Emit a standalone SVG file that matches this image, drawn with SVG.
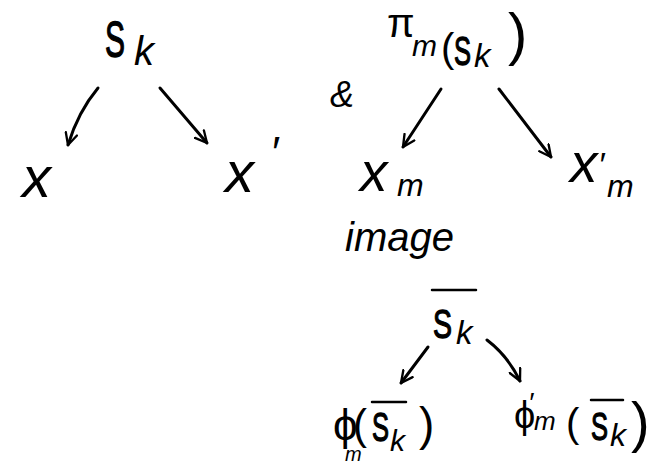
<svg xmlns="http://www.w3.org/2000/svg" width="661" height="471" viewBox="0 0 661 471">
<style>
text{font-family:"Liberation Sans","DejaVu Sans",sans-serif;font-style:italic;fill:#000}
.u{font-style:normal}
.s{stroke:#000;stroke-width:1.3}
.c{fill:none;stroke:#000;stroke-width:3;stroke-linecap:round}
.bar{stroke:#000;stroke-width:2.5;stroke-linecap:round}
</style>
<defs>
<marker id="ah" viewBox="0 0 12 12" refX="11" refY="6" markerWidth="14" markerHeight="14" markerUnits="userSpaceOnUse" orient="auto">
<path d="M1,1 L11,6 L1,11" fill="none" stroke="#000" stroke-width="2" stroke-linecap="round" stroke-linejoin="round"/>
</marker>
</defs>
<rect width="661" height="471" fill="#fff"/>
<g id="connectors">
<path class="c" d="M98,88 Q78,112 68,145" marker-end="url(#ah)"/>
<path class="c" d="M160,88 L207,143" marker-end="url(#ah)"/>
<path class="c" d="M441,89 L403,147" marker-end="url(#ah)"/>
<path class="c" d="M499,89 L551,157" marker-end="url(#ah)"/>
<path class="c" d="M428,347 L401,383" marker-end="url(#ah)"/>
<path class="c" d="M487,340 Q508,356 520,381" marker-end="url(#ah)"/>
</g>
<g id="node-sk">
<text><tspan class="u s" x="105" y="57" font-size="50" textLength="20" lengthAdjust="spacingAndGlyphs">S</tspan><tspan x="134" y="65" font-size="40">k</tspan></text>
</g>
<g id="node-x">
<text x="22" y="197" font-size="58">x</text>
</g>
<g id="node-xprime">
<text><tspan x="225" y="192" font-size="58">x</tspan><tspan x="270" y="168" font-size="44">′</tspan></text>
</g>
<g id="amp">
<text x="330" y="107" font-size="36">&amp;</text>
</g>
<g id="node-pi">
<text><tspan class="u" x="387" y="37" font-size="40">π</tspan><tspan x="412" y="56" font-size="30">m</tspan><tspan class="u" x="441" y="62" font-size="40">(</tspan><tspan class="u s" x="454" y="65" font-size="40" textLength="17" lengthAdjust="spacingAndGlyphs">S</tspan><tspan x="474" y="67" font-size="33">k</tspan><tspan class="u" x="508" y="54" font-size="58">)</tspan></text>
</g>
<g id="node-xm">
<text><tspan x="360" y="191" font-size="55">x</tspan><tspan x="397" y="196" font-size="32">m</tspan></text>
</g>
<g id="node-xpm">
<text><tspan x="570" y="182" font-size="55">x</tspan><tspan x="598" y="176" font-size="34">′</tspan><tspan x="607" y="197" font-size="32">m</tspan></text>
</g>
<g id="label-image">
<text x="345" y="251" font-size="40">image</text>
</g>
<g id="node-skbar">
<line class="bar" x1="432" y1="290" x2="476" y2="290"/>
<text><tspan class="u s" x="433" y="338" font-size="40" textLength="19" lengthAdjust="spacingAndGlyphs">S</tspan><tspan x="456" y="344" font-size="33">k</tspan></text>
</g>
<g id="node-phi">
<line class="bar" x1="372" y1="402" x2="406" y2="402"/>
<text><tspan class="u" x="333" y="440" font-size="44">ϕ</tspan><tspan x="345" y="461" font-size="20">m</tspan><tspan class="u" x="353" y="439" font-size="42">(</tspan><tspan class="u s" x="372" y="441" font-size="40" textLength="17" lengthAdjust="spacingAndGlyphs">S</tspan><tspan x="390" y="451" font-size="30">k</tspan><tspan class="u" x="419" y="440" font-size="46">)</tspan></text>
</g>
<g id="node-phiprime">
<line class="bar" x1="591" y1="400" x2="623" y2="400"/>
<text><tspan class="u" x="514" y="428" font-size="38">ϕ</tspan><tspan x="528" y="412" font-size="28">′</tspan><tspan x="534" y="430" font-size="26">m</tspan><tspan class="u" x="566" y="437" font-size="40">(</tspan><tspan class="u s" x="591" y="440" font-size="38" textLength="17" lengthAdjust="spacingAndGlyphs">S</tspan><tspan x="610" y="446" font-size="32">k</tspan><tspan class="u" x="631" y="441" font-size="56">)</tspan></text>
</g>
</svg>
